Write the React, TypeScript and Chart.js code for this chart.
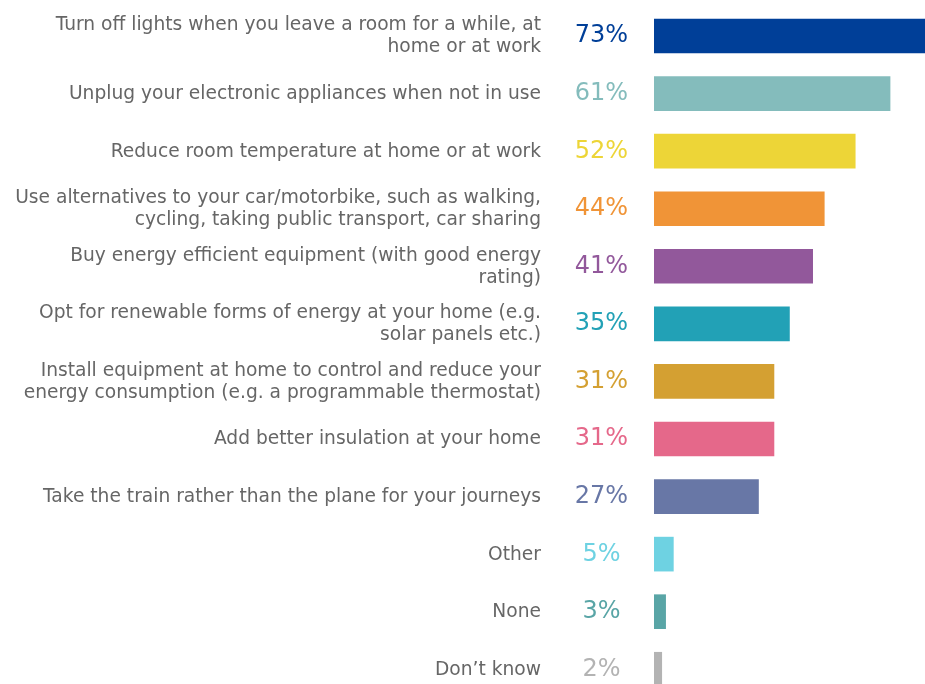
import React, { useEffect, useRef } from "react";
import { Chart, registerables } from "chart.js";

Chart.register(...registerables);

const categories: string[][] = [
  ["Turn off lights when you leave a room for a while, at", "home or at work"],
  ["Unplug your electronic appliances when not in use"],
  ["Reduce room temperature at home or at work"],
  ["Use alternatives to your car/motorbike, such as walking,", "cycling, taking public transport, car sharing"],
  ["Buy energy efficient equipment (with good energy", "rating)"],
  ["Opt for renewable forms of energy at your home (e.g.", "solar panels etc.)"],
  ["Install equipment at home to control and reduce your", "energy consumption (e.g. a programmable thermostat)"],
  ["Add better insulation at your home"],
  ["Take the train rather than the plane for your journeys"],
  ["Other"],
  ["None"],
  ["Don\u2019t know"],
];

const values: number[] = [73, 61, 52, 44, 41, 35, 31, 31, 27, 5, 3, 2];

const colors: string[] = [
  "#003F98",
  "#84BCBC",
  "#EDD537",
  "#F09437",
  "#92589B",
  "#22A1B6",
  "#D4A032",
  "#E5688A",
  "#6877A6",
  "#6ED2E2",
  "#59A5A6",
  "#B3B3B3",
];

const labelPlugin = {
  id: "rowLabels",
  afterDatasetsDraw(chart: any) {
    const ctx = chart.ctx;
    const yScale = chart.scales.y;
    ctx.save();
    categories.forEach((lines, i) => {
      const cy = yScale.getPixelForValue(i);
      ctx.font = "18.65px 'DejaVu Sans'";
      ctx.fillStyle = "#666666";
      ctx.textAlign = "right";
      ctx.textBaseline = "alphabetic";
      const n = lines.length;
      lines.forEach((line, j) => {
        const y = cy + 5.5 + (j - (n - 1) / 2) * 22;
        ctx.fillText(line, 541, y);
      });
      ctx.font = "24px 'DejaVu Sans'";
      ctx.fillStyle = colors[i];
      ctx.textAlign = "center";
      ctx.fillText(values[i] + "%", 601.5, cy + 6.5);
    });
    ctx.restore();
  },
};

export default function App() {
  const ref = useRef<HTMLCanvasElement | null>(null);
  useEffect(() => {
    document.body.style.margin = "0";
    document.body.style.overflow = "hidden";
    const canvas = ref.current;
    if (!canvas) return;
    const chart = new Chart(canvas, {
      type: "bar",
      data: {
        datasets: [
          {
            data: values.map((v, i) => ({ x: v, y: i })),
            backgroundColor: colors,
            borderWidth: 0,
            barThickness: 34,
          } as any,
        ],
      },
      options: {
        indexAxis: "y",
        responsive: false,
        animation: false,
        devicePixelRatio: 1,
        layout: { padding: { left: 654, right: 0, top: 0, bottom: 0 } },
        plugins: { legend: { display: false }, tooltip: { enabled: false } },
        scales: {
          x: { type: "linear", min: 0, max: 70.03, display: false, offset: false },
          y: {
            type: "linear",
            min: -0.6253,
            max: 11.256,
            reverse: true,
            display: false,
            offset: false,
            grid: { offset: false },
          },
        },
      },
      plugins: [labelPlugin],
    });
    return () => chart.destroy();
  }, []);
  return <canvas ref={ref} width={925} height={684} style={{ display: "block" }} />;
}
